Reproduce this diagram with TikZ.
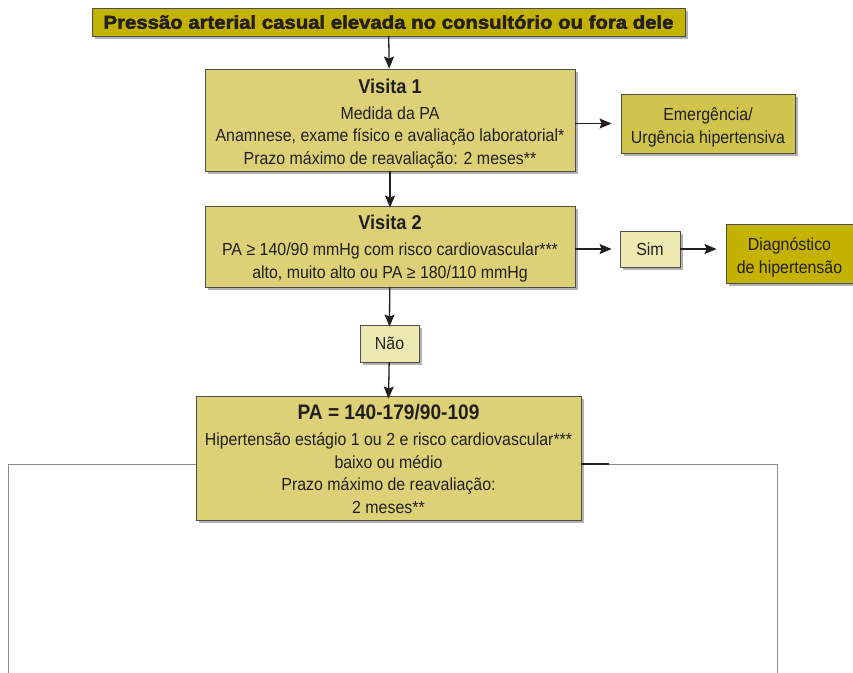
\documentclass[tikz,border=0pt]{standalone}
\usepackage{fontspec}
\setmainfont{Liberation Sans}[FakeStretch=0.91]
\newfontfamily\headfont{Liberation Sans}[FakeBold=2.6, FakeStretch=1.1]
\usetikzlibrary{arrows.meta,shadows}
\definecolor{olivedark}{HTML}{C3B200}
\definecolor{olivemid}{HTML}{D1C44C}
\definecolor{olivelight}{HTML}{DCD176}
\definecolor{olivepale}{HTML}{EEE8B2}
\definecolor{ink}{HTML}{231F20}
\tikzset{
  box/.style={draw=ink!80, line width=0.9pt, text=ink, align=center,
    inner sep=0pt, drop shadow={shadow xshift=3pt, shadow yshift=-3pt,
    fill=black!55, opacity=0.55}},
  body/.style={font=\fontsize{17.5}{22.5}\selectfont},
  flow/.style={draw=ink, line width=1.3pt,
    -{Stealth[length=12pt, width=10pt, inset=2pt]}},
  frame/.style={draw=black!45, line width=0.9pt}
}
% bold first line of a box, and a strut that sets the top margin of its text
\newcommand{\headline}[1]{{\bfseries\fontsize{20}{22.5}\selectfont #1}}
\newcommand{\lift}[1]{\rule{0pt}{#1pt}}
\begin{document}
\begin{tikzpicture}[x=1pt, y=-1pt]
\useasboundingbox (0,0) rectangle (853,672);

% outer frame lines of the next stage
\coordinate (fl) at (8,464);
\coordinate (flb) at (8,680);
\coordinate (fr0) at (609,464);
\coordinate (fr) at (777,464);
\coordinate (frb) at (777,680);

% boxes
\node[box, fill=olivedark, minimum width=593pt, minimum height=28pt,
  font=\headfont\bfseries\fontsize{18.5}{20}\selectfont] (top) at (388.5,22)
  {Pressão arterial casual elevada no consultório ou fora dele};

\node[box, body, fill=olivelight, minimum width=370pt, minimum height=102pt] (v1) at (390,120)
  {\lift{22}\headline{Visita 1}\\[3pt]
   Medida da PA\\
   Anamnese, exame físico e avaliação laboratorial*\\
   Prazo máximo de reavaliação: 2 meses**};

\node[box, body, fill=olivemid, minimum width=174pt, minimum height=59pt] (emg) at (708,123.5)
  {\lift{20.5}Emergência/\\Urgência hipertensiva};

\node[box, body, fill=olivelight, minimum width=370pt, minimum height=81pt] (v2) at (390,246.5)
  {\lift{18.7}\headline{Visita 2}\\[3.5pt]
   PA ≥ 140/90 mmHg com risco cardiovascular***\\
   alto, muito alto ou PA ≥ 180/110 mmHg};

\node[box, body, fill=olivepale, minimum width=60pt, minimum height=36pt] (sim) at (650,249) {Sim};

\node[box, body, fill=olivedark, minimum width=127pt, minimum height=59pt] (diag) at (789.5,253.5)
  {\lift{20.5}Diagnóstico\\de hipertensão};

\node[box, body, fill=olivepale, minimum width=59pt, minimum height=37pt] (nao) at (389.5,343.5) {Não};

% frame lines sit behind the last box
\draw[frame] (flb) -- (fl) -- (196,464);
\draw[frame] (fr0) -- (fr) -- (frb);

\node[box, body, fill=olivelight, minimum width=385pt, minimum height=124pt] (pa) at (388.5,458)
  {\lift{17.5}{\bfseries\fontsize{21}{22.5}\selectfont PA = 140-179/90-109}\\[3.5pt]
   Hipertensão estágio 1 ou 2 e risco cardiovascular***\\
   baixo ou médio\\
   Prazo máximo de reavaliação:\\
   2 meses**};

\draw[draw=ink, line width=1.3pt] (pa.east |- fr0) -- (fr0);

% connectors
\draw[flow] (top) -- (v1);
\draw[flow] (v1.east |- emg.west) -- ([xshift=-9pt]emg.west);
\draw[flow] (v1) -- ([yshift=-2pt]v2.north);
\draw[flow] (v2.east |- sim.west) -- ([xshift=-8pt]sim.west);
\draw[flow] (sim.east) -- ([xshift=-9pt]diag.west |- sim.east);
\draw[flow] (v2) -- ([yshift=-2pt]nao.north);
\draw[flow] (nao) -- ([yshift=-3pt]pa.north);
\end{tikzpicture}
\end{document}
